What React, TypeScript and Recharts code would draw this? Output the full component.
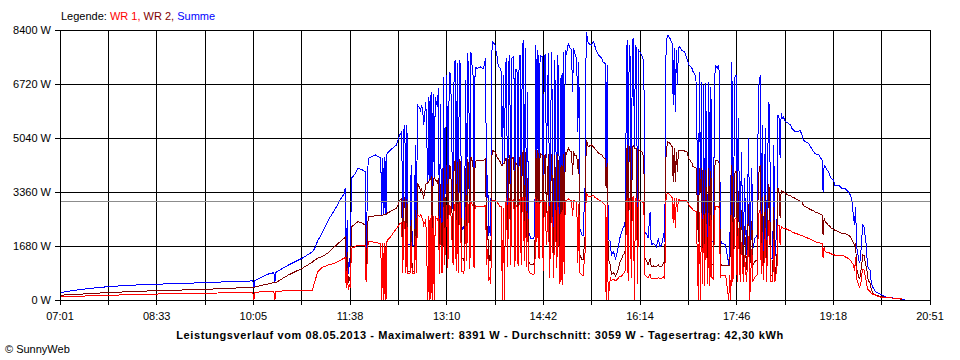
import React from 'react';
import { LineChart, Line, XAxis, YAxis, CartesianGrid, ReferenceLine } from 'recharts';

// time in minutes since midnight
const times = [
  421,435,449,467,488,512,536,559,583,602,605,606,607,614,620,625,626,627,639,652,662,664,667,671,677,683,690,692,
  693,694,695,696,697,698,699,
  702,705,709,712,713,715,722,727,728,729,730,731,732,733,736,742,744,745,
  747,748,749,750,751,752,753,755,756,757,759,760,761,762,764,765,766,767,768,770,772,773,774,775,776,777,778,779,781,782,783,784,785,786,787,
  788,790,791,792,793,794,796,797,798,799,800,801,802,803,804,805,806,807,808,809,810,811,812,813,814,815,816,817,819,822,
  825,827,828,829,830,831,832,833,834,836,838,839,841,842,843,844,845,846,847,848,849,850,851,852,854,855,856,857,858,859,
  860,861,862,863,864,865,866,867,868,870,873,874,875,876,877,878,879,881,882,883,
  884,885,887,888,890,892,893,895,896,898,899,900,901,902,903,904,906,907,909,910,911,912,914,915,916,917,919,920,922,923,
  925,928,930,931,933,935,938,939,941,942,943,944,946,947,949,951,952,954,955,957,958,960,962,963,964,965,966,967,968,969,
  970,971,972,973,974,976,978,979,981,982,
  984,985,987,989,990,992,993,995,997,998,999,1000,1001,1003,1005,1006,1007,1008,1009,1010,1011,1012,1014,1016,1017,1019,1020,1021,1024,1025,
  1027,1028,1030,1031,1032,1033,1034,1035,1036,1037,1039,1040,1041,1042,1043,1044,1046,1048,1049,1050,1051,1052,1054,1056,1059,1060,1061,1062,1063,1065,
  1066,1067,1068,1070,1071,1073,1074,1076,1078,1079,1081,1082,
  1084,1086,1087,1088,1089,1090,1091,1092,1094,1095,1097,1098,1099,1101,1102,1103,1105,1106,1107,1108,1109,1110,1111,1113,1116,1118,1119,1121,1122,1125,
  1127,1129,1130,1132,1135,1138,1140,1141,1145,1146,1148,1149,1150,1151,1154,1156,1157,1159,1160,1164,1167,1170,1173,1175,1176,1177,1178,1179,1180,1181,
  1183,1184,1185,1186,1187,1188,1190,1191,1192,1194,1195,1197,1199,1202,1205,1208,1211,1218,1222,1224,1227,
];

const summe = [
  230,300,360,415,460,490,515,540,570,590,595,400,600,725,810,850,560,860,1090,1300,1500,1610,1850,2075,2490,2800,3210,3300,
  3475,1000,2500,800,1300,900,3785,
  3900,4095,4060,3990,1400,4410,4510,4420,2640,4420,2650,4450,2660,4560,4660,4820,5030,5130,
  5235,2100,5280,5440,1800,5440,1710,1750,4200,1710,1710,4820,1710,6065,5990,5900,6065,5900,5440,6170,3650,6300,3750,6480,2020,6400,3800,6300,6010,6585,1970,6100,2000,2100,6945,
  2600,7000,2435,6065,7100,6480,2750,7200,7465,2200,7360,2100,7465,7310,2330,2200,2240,2400,6840,3000,7670,6790,2300,7720,7310,7100,2500,7255,7200,7250,
  7200,7520,2750,3890,2000,2300,2000,7720,8030,7930,7570,7300,7200,7100,4200,7000,4250,7310,7516,2330,7310,7620,2750,7516,7570,2540,7200,7100,2600,7516,
  7620,2700,7724,8100,3000,7827,2540,6479,2124,1916,1916,2124,7931,4405,7775,3368,7620,7570,2800,7570,
  7620,4405,7670,2330,7724,1916,7464,2746,7620,1709,6998,1500,7724,2227,7775,7620,7983,7879,7775,6479,7827,7670,7516,5235,7413,2227,2020,2020,3576,8346,
  7983,7931,8035,7931,7724,7620,7516,7413,7360,3472,7309,1916,1812,1398,1500,1294,1398,1709,1916,2124,2227,2331,8087,1709,7931,7516,1916,8035,8138,4716,
  7931,7827,1500,7775,7724,7620,7413,2124,2020,1916,
  2746,1709,1760,1709,1657,1916,1657,1709,2070,1812,7516,8138,8242,8138,7983,6065,7827,5857,7775,6687,7827,7879,7775,7724,7724,7516,7413,7309,7205,7101,
  6998,6739,1812,7101,3368,6790,1294,6687,1087,6739,1294,6790,1190,6635,1812,1812,7309,7205,7309,7101,1916,1760,1760,1709,1100,1812,3161,7413,1812,6998,
  6998,1501,5650,1501,4613,1398,3783,1398,5027,1398,4094,1605,
  1916,2020,5442,6894,6946,2020,5442,1294,5338,1294,6168,5961,1294,1294,4820,1294,2331,5753,5650,4405,5805,5650,5700,5546,5494,5442,5338,5290,5235,5235,
  5286,5131,4976,4924,4872,4716,4613,4561,4509,4457,4353,3368,4198,4146,3990,3835,3783,3730,3576,3576,3472,3472,3368,3264,3161,2953,2590,2331,2903,1658,
  1243,1140,1451,1969,2332,2280,1762,1243,984,932,517,362,258,207,155,103,82,51,35,25,10,
];

const wr2 = [
  150,170,200,230,260,290,310,330,365,390,395,395,400,465,500,540,540,545,780,985,1180,1245,1300,1350,1470,1660,1865,1920,
  1950,600,1500,520,700,560,2280,
  2350,2435,2400,2330,830,2590,2620,2640,2640,2645,2650,2660,2660,2700,2750,2850,3000,3110,
  3150,1100,3100,3200,950,3150,880,900,2500,880,880,2800,880,3630,3500,3400,3450,3300,3160,3600,3650,3700,3750,3800,2020,3780,3800,3750,3650,3780,1190,3600,1200,1250,4100,
  1500,4200,1400,3700,4200,3800,1600,4250,4350,1300,4300,1250,4350,4300,1300,1300,1250,1400,4100,1700,4400,4000,1350,4450,4350,4200,1500,4300,4355,4355,
  4350,4400,1600,2300,1150,1400,1200,4500,4650,4600,4450,4400,4300,4200,4200,4250,4250,4400,4405,1300,4300,4500,1650,4400,4450,1500,4250,4200,1550,4400,
  4450,1600,4500,4650,1800,4600,1500,3800,1200,1100,1100,1250,4665,2600,4660,2000,4550,4500,1916,4500,
  4510,2700,4550,1500,4550,1200,4500,1700,4550,1100,4200,1000,4550,1400,4600,4550,4730,4650,4600,3900,4620,4510,4500,4090,4400,1400,1250,1250,2000,4980,
  4770,4820,4770,4720,4650,4560,4510,4450,4400,3472,4250,1300,1100,800,850,750,800,1000,1150,1300,1400,1450,4820,1100,4780,4700,1200,4760,4800,4716,
  4716,4700,1000,4680,4640,4613,4457,1294,1190,1087,
  1300,1050,1060,1040,1030,1100,1030,1040,1150,1060,4400,4770,4924,4870,4768,3680,4716,3680,4613,3990,4664,4664,4664,4664,4620,4613,4500,4400,4250,4146,
  4120,4094,1812,4094,3368,4094,879,4050,650,4050,800,4100,750,4000,1100,1100,4353,4353,4301,4250,1200,1087,1087,1087,1087,1087,2331,4198,1087,3990,
  3990,983,3400,983,2800,930,2300,930,3000,930,2450,1087,
  1200,1250,3264,4094,4198,1200,3200,672,3264,750,3600,3400,775,775,2900,672,1294,3472,3368,2538,3420,3368,3368,3316,3264,3240,3212,3190,3161,3110,
  3080,3057,2953,2900,2850,2798,2770,2746,2694,2670,2642,2020,2538,2435,2331,2280,2227,2200,2175,2124,2072,2072,2020,1970,1916,1840,1760,1709,1760,1000,
  700,680,880,1150,1400,1399,1036,880,621,517,310,207,155,124,103,90,72,51,35,25,null,
];

const wr1 = [
  95,110,130,145,165,185,200,210,225,230,230,0,235,260,260,265,0,270,290,300,310,570,880,1015,1090,1140,1265,1300,
  1320,380,1000,300,500,370,1610,
  1650,1710,1700,1690,560,1815,1800,1750,0,1760,0,1780,0,1850,1950,2230,2300,2385,
  2400,850,2400,2450,850,2400,830,840,1800,830,820,2000,830,2645,2600,2650,2600,2500,2330,2500,0,2600,0,2650,0,2600,0,2590,2500,2600,800,2550,850,860,2900,
  1100,2950,1000,2600,2950,2650,1100,2950,3000,900,3000,850,3050,3000,900,900,850,1000,2900,1200,3050,2800,950,3050,3000,2950,1000,2950,2900,2900,
  2900,2950,1100,1600,600,700,500,3050,3100,3100,3050,3000,2900,2900,0,2850,0,3000,3160,1030,3100,3160,1100,3100,3120,1040,2950,2900,1050,3100,
  3150,1100,3200,3200,1200,3200,1040,2700,920,820,800,870,3200,1800,3150,1290,3100,3100,900,3100,
  3050,1700,3050,700,3060,680,3050,1000,3050,500,2750,470,3080,800,3100,3080,3150,3120,3100,2600,3100,3080,3050,1150,3000,850,770,770,1500,3330,
  3220,3230,3260,3200,3160,3110,3060,3010,2950,0,3000,0,700,600,650,600,620,700,730,750,800,880,3160,600,3150,3100,700,3160,3200,0,
  3160,3150,500,3120,3100,3060,3005,775,720,700,
  800,672,680,672,660,700,665,670,720,680,3100,3290,3316,3264,3180,2400,3161,2227,3161,2746,3130,3109,3109,3109,3109,3080,3020,2950,2850,2798,
  2770,2746,0,2746,0,2700,500,2650,450,2700,500,2700,450,2650,700,650,2900,2900,2900,2850,700,775,775,775,0,775,0,2642,568,2538,
  2538,568,2250,568,1800,568,1400,568,2000,0,1600,568,
  720,780,2000,2800,2746,820,2100,620,2227,560,2500,2400,568,568,1900,568,1000,2331,2331,1709,2300,2260,2227,2227,2176,2150,2124,2100,2072,2050,
  2020,2020,1990,1960,1916,1870,1840,1812,1790,1770,1761,1294,1650,1501,1480,1450,1430,1410,1398,1398,1398,1346,1294,1240,1190,1140,1087,900,1340,660,
  450,400,500,820,950,932,621,414,310,258,207,170,155,103,82,75,72,51,41,30,null,
];

const xTickLabels = ['07:01', '08:33', '10:05', '11:38', '13:10', '14:42', '16:14', '17:46', '19:18', '20:51'];
const xStart = 421;
const xEnd = 1251;
const yTicks = [0, 1680, 3360, 5040, 6720, 8400];
const average = 3059;

const data = times.map((t, i) => ({ t, wr1: wr1[i], wr2: wr2[i], summe: summe[i] }));
const xTicks = Array.from({ length: 19 }, (_, k) => xStart + (k * (xEnd - xStart)) / 18);

const font = '"Liberation Sans", Arial, sans-serif';

export default function App() {
  return (
    <div style={{ position: 'relative', width: 960, height: 360, background: '#fff', fontFamily: font, fontSize: 11, color: '#000' }}>
      <style>{`
        body { margin: 0; }
        .recharts-cartesian-grid line, .recharts-cartesian-axis-line, .recharts-cartesian-axis-tick-line,
        .recharts-reference-line-line, .recharts-line-curve { shape-rendering: crispEdges; }
      `}</style>
      <LineChart width={960} height={360} data={data} margin={{ top: 30, right: 30, bottom: 0, left: 0 }}>
        <CartesianGrid stroke="#000" strokeWidth={1} />
        <XAxis
          dataKey="t"
          type="number"
          domain={[xStart, xEnd]}
          ticks={xTicks}
          interval={0}
          height={60}
          tickSize={5}
          tickMargin={7}
          axisLine={{ stroke: '#000' }}
          tickLine={{ stroke: '#000' }}
          tick={{ fill: '#000', fontSize: 11, fontFamily: font }}
          tickFormatter={(v: number, i: number) => (i % 2 === 0 ? xTickLabels[i / 2] : '')}
          allowDataOverflow
        />
        <YAxis
          type="number"
          domain={[0, 8400]}
          ticks={yTicks}
          interval={0}
          width={60}
          tickSize={5}
          tickMargin={4}
          axisLine={{ stroke: '#000' }}
          tickLine={{ stroke: '#000' }}
          tick={{ fill: '#000', fontSize: 11, fontFamily: font }}
          tickFormatter={(v: number) => `${v} W`}
          allowDataOverflow
        />
        <Line type="linear" dataKey="summe" stroke="#0000ff" strokeWidth={1} dot={false} activeDot={false} isAnimationActive={false} />
        <Line type="linear" dataKey="wr2" stroke="#800000" strokeWidth={1} dot={false} activeDot={false} isAnimationActive={false} />
        <Line type="linear" dataKey="wr1" stroke="#ff0000" strokeWidth={1} dot={false} activeDot={false} isAnimationActive={false} />
        <ReferenceLine y={average} stroke="#8c8c8c" strokeWidth={1} />
      </LineChart>
      <div style={{ position: 'absolute', left: 61, top: 10, lineHeight: '13px', whiteSpace: 'nowrap' }}>
        <span style={{ color: '#000' }}>Legende: </span>
        <span style={{ color: '#ff0000' }}>WR 1, </span>
        <span style={{ color: '#800000' }}>WR 2, </span>
        <span style={{ color: '#0000ff' }}>Summe</span>
      </div>
      <div style={{ position: 'absolute', left: 0, width: 960, top: 329, lineHeight: '13px', textAlign: 'center', fontWeight: 'bold', letterSpacing: '0.6px', whiteSpace: 'nowrap' }}>
        Leistungsverlauf vom 08.05.2013 - Maximalwert: 8391 W - Durchschnitt: 3059 W - Tagesertrag: 42,30 kWh
      </div>
      <div style={{ position: 'absolute', left: 5, top: 343, lineHeight: '13px', whiteSpace: 'nowrap' }}>
        © SunnyWeb
      </div>
    </div>
  );
}
